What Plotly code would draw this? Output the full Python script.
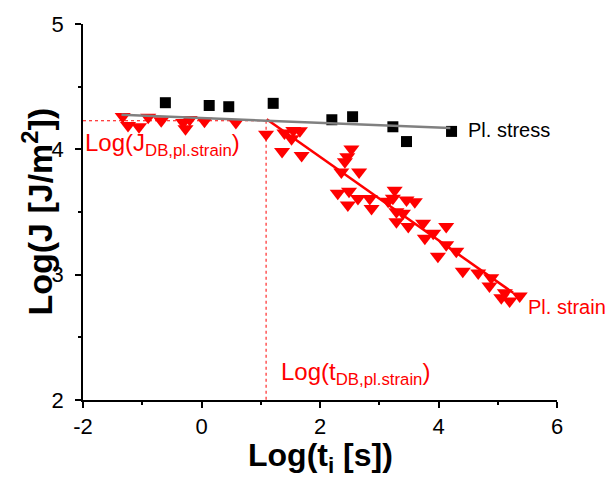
import plotly.graph_objects as go

# Plane stress data (black squares)
stress_x = [-0.61, 0.13, 0.46, 1.21, 2.20, 2.55, 3.23, 3.46, 4.22]
stress_y = [4.372, 4.350, 4.340, 4.367, 4.236, 4.260, 4.180, 4.062, 4.143]

# Plane strain data (red down-triangles)
strain_x = [-1.33, -1.24, -1.055, -0.90, -0.68, -0.31, -0.27, -0.20, 0.05, 0.58, 1.09,
            1.36, 1.40, 1.52, 1.55, 1.66, 1.69,
            2.53, 2.46, 2.42, 2.36, 2.66,
            2.30, 2.49, 2.47, 2.64, 2.84, 2.87, 3.26, 3.23, 3.15, 3.46, 3.60, 3.29, 3.40, 3.29, 3.49, 3.74,
            3.91, 3.77, 4.13, 3.99, 4.13, 4.30, 4.41, 4.67, 4.89, 4.86, 5.12, 5.20, 5.37, 5.06]
strain_y = [4.262, 4.190, 4.180, 4.255, 4.228, 4.215, 4.165, 4.238, 4.225, 4.215, 4.120,
            3.982, 4.130, 4.085, 4.150, 4.148, 3.951,
            4.003, 3.940, 3.900, 3.820, 3.820,
            3.650, 3.665, 3.555, 3.608, 3.608, 3.528, 3.674, 3.610, 3.585, 3.595, 3.582, 3.502, 3.490, 3.423, 3.384, 3.410,
            3.331, 3.291, 3.384, 3.146, 3.239, 3.186, 3.028, 3.014, 2.975, 2.909, 2.856, 2.790, 2.830, 2.816]

# Fit lines
stress_fit_x = [-1.35, 4.20]
stress_fit_y = [4.275, 4.170]
strain_fit_x = [1.10, 5.26]
strain_fit_y = [4.240, 2.855]

# Ductile-brittle transition point
t_db = 1.09
j_db = 4.228
x_min, x_max = -2, 6
y_min, y_max = 2, 5

# Tick labels
x_tickvals = [-2, 0, 2, 4, 6]
x_ticktext = ["-2", "0", "2", "4", "6"]
y_tickvals = [2, 3, 4, 5]
y_ticktext = ["2", "3", "4", "5"]

FONT = "Liberation Sans, Arial, sans-serif"
RED = "#ff0000"

fig = go.Figure()
fig.add_trace(go.Scatter(x=strain_x, y=strain_y, mode="markers",
                         marker=dict(symbol="triangle-down", size=14, color=RED, line=dict(width=0)),
                         showlegend=False, cliponaxis=False))
fig.add_trace(go.Scatter(x=stress_x, y=stress_y, mode="markers",
                         marker=dict(symbol="square", size=11, color="black", line=dict(width=0)),
                         showlegend=False, cliponaxis=False))
fig.add_trace(go.Scatter(x=[x_min, t_db], y=[j_db, j_db], mode="lines",
                         line=dict(color=RED, width=1, dash="dot"), showlegend=False))
fig.add_trace(go.Scatter(x=[t_db, t_db], y=[j_db, y_min], mode="lines",
                         line=dict(color=RED, width=1, dash="dot"), showlegend=False))
fig.add_trace(go.Scatter(x=strain_fit_x, y=strain_fit_y, mode="lines",
                         line=dict(color=RED, width=2.5), showlegend=False))
fig.add_trace(go.Scatter(x=stress_fit_x, y=stress_fit_y, mode="lines",
                         line=dict(color="#808080", width=2.5), showlegend=False))

annotations = [
    dict(x=x_min, y=4.035, xref="x", yref="y", text="Log(J<sub>DB,pl.strain</sub>)",
         showarrow=False, xanchor="left", yanchor="middle", font=dict(family=FONT, size=24, color=RED)),
    dict(x=1.30, y=2.21, xref="x", yref="y", text="Log(t<sub>DB,pl.strain</sub>)",
         showarrow=False, xanchor="left", yanchor="middle", font=dict(family=FONT, size=24, color=RED)),
    dict(x=4.47, y=4.155, xref="x", yref="y", text="Pl. stress",
         showarrow=False, xanchor="left", yanchor="middle", font=dict(family=FONT, size=20, color="black")),
    dict(x=5.47, y=2.745, xref="x", yref="y", text="Pl. strain",
         showarrow=False, xanchor="left", yanchor="middle", font=dict(family=FONT, size=20, color=RED)),
    dict(x=0.5, y=-0.1535, xref="paper", yref="paper", text="<b>Log(t<sub>i</sub> [s])</b>",
         showarrow=False, xanchor="center", yanchor="middle", font=dict(family=FONT, size=32, color="black")),
    dict(x=-0.098, y=0.5, xref="paper", yref="paper", text="<b>Log(J [J/m<sup>2</sup>])</b>",
         showarrow=False, xanchor="center", yanchor="middle", textangle=-90,
         font=dict(family=FONT, size=34, color="black")),
]

fig.update_layout(
    width=609, height=479,
    margin=dict(l=83, r=52, t=21, b=79),
    paper_bgcolor="white", plot_bgcolor="white",
    font=dict(family=FONT, size=21, color="black"),
    annotations=annotations,
    xaxis=dict(range=[x_min, x_max], tickmode="array", tickvals=x_tickvals, ticktext=x_ticktext,
               showgrid=False, zeroline=False,
               showline=True, linecolor="black", linewidth=1.5, ticks="outside", ticklen=6,
               tickwidth=1.5, tickcolor="black",
               minor=dict(dtick=1, tick0=-2, ticks="outside", ticklen=3, tickwidth=1.5, tickcolor="black", showgrid=False),
               tickfont=dict(family=FONT, size=22)),
    yaxis=dict(range=[y_min, y_max], tickmode="array", tickvals=y_tickvals, ticktext=y_ticktext,
               showgrid=False, zeroline=False,
               showline=True, linecolor="black", linewidth=1.5, ticks="outside", ticklen=6,
               tickwidth=1.5, tickcolor="black", ticklabelstandoff=7,
               minor=dict(dtick=0.5, tick0=2, ticks="outside", ticklen=3, tickwidth=1.5, tickcolor="black", showgrid=False),
               tickfont=dict(family=FONT, size=22)),
)

fig.write_html("out.html")
